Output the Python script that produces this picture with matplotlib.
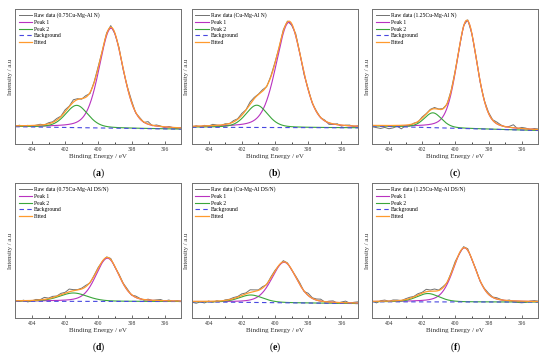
import numpy as np
import matplotlib
matplotlib.use('Agg')
import matplotlib.pyplot as plt

plt.rcParams['font.family'] = ['Liberation Serif', 'DejaVu Serif']
plt.rcParams['mathtext.fontset'] = 'custom'
plt.rcParams['mathtext.rm'] = 'Liberation Serif'
plt.rcParams['mathtext.bf'] = 'Liberation Serif:bold'

# binding energy grid of the raw scans (eV), 0.25 eV steps from 405 to 395
energy = np.linspace(405, 395, 41)
# dense grid for the fitted curves
energy_fit = np.linspace(405, 395, 401)

panel_tags = ['a', 'b', 'c', 'd', 'e', 'f']
samples = ['0.75Cu-Mg-Al N', 'Cu-Mg-Al N', '1.25Cu-Mg-Al N',
           '0.75Cu-Mg-Al DS/N', 'Cu-Mg-Al DS/N', '1.25Cu-Mg-Al DS/N']

# background level at 405 eV and at 395 eV
bg_left = [12.8, 12.4, 13.3, 12.4, 12.0, 12.0]
bg_right = [11.0, 12.0, 10.0, 12.2, 10.7, 11.8]

# fitted component parameters (centre eV, height, FWHM eV), Gauss-Lorentz mix
p1_center = [399.23, 399.15, 399.30, 399.45, 399.45, 399.45]
p1_height = [74.0, 78.0, 80.0, 32.0, 30.0, 40.0]
p1_fwhm = [1.70, 1.85, 1.45, 1.65, 1.75, 1.60]
p2_center = [401.30, 401.10, 401.35, 401.50, 401.45, 401.65]
p2_height = [16.5, 16.5, 11.0, 6.2, 5.5, 6.2]
p2_fwhm = [1.60, 1.55, 1.25, 2.00, 1.70, 1.60]
lor_frac = 0.3

# raw data minus fitted envelope
resid_a = [-0.3, 0.4, -0.5, 0.2, -0.6, 0.1, 0.6, -0.2, 0.8, 0.5, 1.2, 0.3, 1.5, 0.4,
           1.8, 0.6, -0.4, 1.2, -0.8, 0.6, 1.0, -0.5, 0.8, 1.2, -0.6, 0.9, -1.0, 0.4,
           1.2, -0.5, 0.6, -0.3, 1.8, -0.4, 0.7, 0.3, -0.6, 0.5, -0.2, -0.8, 0.4]
resid_b = [-0.8, 0.3, -0.6, 0.4, -0.2, 0.9, 0.2, -0.3, 0.5, -0.2, 1.0, 0.4, 1.4, 0.2,
           1.6, 0.9, 0.3, 1.1, -0.4, 0.7, 0.8, -0.6, 1.0, 0.6, -1.2, 1.3, 0.2, -1.4,
           0.5, -0.6, 0.4, -0.2, 0.5, -1.2, -0.4, 0.6, -0.8, 0.2, 0.5, -0.5, 0.3]
resid_c = [-1.0, -1.6, -2.2, -1.4, -2.4, -1.8, -0.6, -2.6, -0.4, -1.0, 0.3, -0.5, 0.8, 0.2,
           0.6, 0.9, 0.3, 0.2, -0.5, 0.4, 0.3, -0.4, 0.5, 0.6, -0.3, 0.4, -0.6, 0.2,
           0.7, 0.3, 1.2, 0.4, -0.3, 0.6, 2.2, -0.4, 0.8, 0.5, -0.3, 0.6, 0.4]
resid_d = [0.2, -0.5, 0.4, -1.0, -0.3, 0.6, 0.2, 1.5, 0.4, 0.9, 0.2, 1.0, 0.6, 2.0,
           0.8, 0.3, 0.6, 1.0, -0.4, 0.5, 0.7, -0.3, 0.4, 0.8, -0.5, 0.7, 0.3, 0.8,
           -0.4, 0.9, 0.3, -0.5, 0.6, -0.2, 0.4, 0.8, -0.3, 0.6, -0.4, 0.3, -0.5]
resid_e = [-0.6, -1.4, -0.4, -1.2, 0.2, -0.8, 0.3, -0.6, 0.4, 0.3, 0.8, 0.5, 1.2, 0.7,
           2.0, 1.2, 0.3, 1.0, -0.5, 0.8, 0.6, -0.4, 0.9, 0.5, -0.3, 0.7, 1.2, -0.4,
           1.6, 0.4, 0.8, 1.4, -0.3, 0.6, 1.0, -0.6, 0.4, 1.2, -0.2, 0.5, 0.9]
resid_f = [0.3, -1.2, 0.4, 0.8, -0.2, 0.7, 0.5, -0.3, 0.6, 0.9, 0.4, 1.0, 0.6, 1.8,
           0.9, 1.6, 0.3, 0.8, -0.5, 0.7, 1.2, -0.6, 0.8, 1.1, -0.4, 0.6, -0.5, 0.4,
           0.8, 0.2, 0.9, 0.3, -0.4, 0.5, -0.6, -1.0, -1.2, -0.8, 0.2, 0.6, 0.3]
residuals = [resid_a, resid_b, resid_c, resid_d, resid_e, resid_f]


def peak(x, c, h, w):
    g = np.exp(-4 * np.log(2) * (x - c) ** 2 / w ** 2)
    lz = 1 / (1 + 4 * (x - c) ** 2 / w ** 2)
    return h * ((1 - lor_frac) * g + lor_frac * lz)


def components(x, k):
    bg = np.interp(x, [395, 405], [bg_right[k], bg_left[k]])
    p1 = peak(x, p1_center[k], p1_height[k], p1_fwhm[k])
    p2 = peak(x, p2_center[k], p2_height[k], p2_fwhm[k])
    return bg, p1, p2


fig = plt.figure(figsize=(5.5, 3.59), dpi=100)
col_left = [15.3 / 550, 192 / 550, 372.3 / 550]
col_w = 166 / 550
row_bottom = [1 - 144 / 359, 1 - 318 / 359]
row_h = 135 / 359

for k in range(6):
    r, c = divmod(k, 3)
    ax = fig.add_axes([col_left[c], row_bottom[r], col_w, row_h])
    bg, p1, p2 = components(energy_fit, k)
    fit = bg + p1 + p2
    bg_r, p1_r, p2_r = components(energy, k)
    raw = bg_r + p1_r + p2_r + np.array(residuals[k])

    ax.plot(energy, raw, color='#707070', lw=0.7, label='Raw data (%s)' % samples[k])
    ax.plot(energy_fit, bg + p1, color='#b832c0', lw=0.8, label='Peak 1')
    ax.plot(energy_fit, bg + p2, color='#3aa63a', lw=0.8, label='Peak 2')
    ax.plot(energy_fit, bg, color='#4848e0', lw=0.8, ls=(0, (4, 3)), label='Background')
    ax.plot(energy_fit, fit, color='#ff9a2e', lw=0.9, label='Fitted')

    ax.set_xlim(405, 395)
    ax.set_ylim(0, 100)
    ax.set_xticks([404, 402, 400, 398, 396])
    ax.set_xticks([403, 401, 399, 397], minor=True)
    ax.set_yticks([])
    ax.tick_params(axis='x', which='major', direction='in', length=2, width=0.5,
                   labelsize=4, pad=2, colors='#333333')
    ax.tick_params(axis='x', which='minor', direction='in', length=1.2, width=0.5)
    for s in ax.spines.values():
        s.set_color('#707070')
        s.set_linewidth(0.7)
    ax.set_xlabel('Binding Energy / eV', fontsize=5.0, labelpad=1.5, color='#333333')
    ax.set_ylabel('Intensity / a.u', fontsize=4.8, labelpad=2, color='#333333')
    ax.legend(loc='upper left', frameon=False, fontsize=4.1, handlelength=2.3,
              handletextpad=0.4, labelspacing=0.3, borderaxespad=0.3,
              borderpad=0.3)
    ax.text(0.5, -0.215, r'($\mathbf{%s}$)' % panel_tags[k], transform=ax.transAxes,
            ha='center', va='center', fontsize=7)

fig.savefig('out.png', dpi=100)
